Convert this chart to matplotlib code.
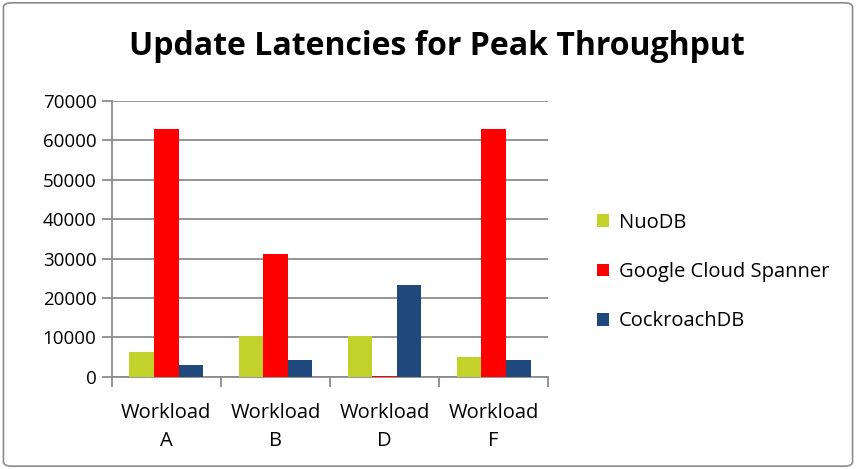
import numpy as np
import matplotlib.pyplot as plt
from matplotlib.patches import FancyBboxPatch

plt.rcParams['font.family'] = ['Open Sans', 'DejaVu Sans']

workloads = ['Workload\nA', 'Workload\nB', 'Workload\nD', 'Workload\nF']
nuodb = [6200, 10400, 10400, 5100]
spanner = [62800, 31200, 200, 62800]
cockroach = [3000, 4250, 23300, 4250]
series_names = ['NuoDB', 'Google Cloud Spanner', 'CockroachDB']
series_colors = ['#c3d12b', '#ff0000', '#1f497d']

fig = plt.figure(figsize=(8.56, 4.69), dpi=100)
ax = fig.add_axes([0.1305, 0.1968, 0.51, 0.5878])

x = np.arange(len(workloads))
width = 0.225
for i, (vals, name, col) in enumerate(zip([nuodb, spanner, cockroach], series_names, series_colors)):
    ax.bar(x + (i - 1) * width, vals, width, color=col, label=name, zorder=3)

ax.set_xlim(-0.5, len(workloads) - 0.5)
ax.set_ylim(0, 70000)
ax.set_yticks(range(0, 70001, 10000))
ax.yaxis.grid(True, color='#8c8c8c', linewidth=1.3, zorder=0)
ax.set_axisbelow(True)

# tick marks at category boundaries, labels at category centres
ax.set_xticks(np.arange(len(workloads) + 1) - 0.5)
ax.set_xticklabels([])
ax.set_xticks(x, minor=True)
ax.set_xticklabels(workloads, minor=True, fontsize=14.5, linespacing=1.5)
ax.tick_params(axis='x', which='major', length=7, color='#8c8c8c', width=1.3, direction='out')
ax.tick_params(axis='x', which='minor', length=0, pad=19)
ax.tick_params(axis='y', length=7, color='#8c8c8c', width=1.3, labelsize=13.5, pad=4)

for s in ['top', 'right']:
    ax.spines[s].set_visible(False)
for s in ['left', 'bottom']:
    ax.spines[s].set_color('#8c8c8c')
    ax.spines[s].set_linewidth(1.3)

fig.text(0.51, 0.9, 'Update Latencies for Peak Throughput', ha='center', va='center',
         fontsize=23, fontweight='bold')

fig.legend(loc='center left', bbox_to_anchor=(0.676, 0.42), frameon=False, fontsize=14.5,
           handlelength=0.6, handleheight=0.6, handletextpad=0.5, labelspacing=1.45)

border = FancyBboxPatch((0.004, 0.006), 0.992, 0.988, boxstyle='round,pad=0,rounding_size=0.01',
                        transform=fig.transFigure, fill=False, edgecolor='#8c8c8c', linewidth=1.2)
fig.patches.append(border)

fig.savefig('out.png', dpi=100)
